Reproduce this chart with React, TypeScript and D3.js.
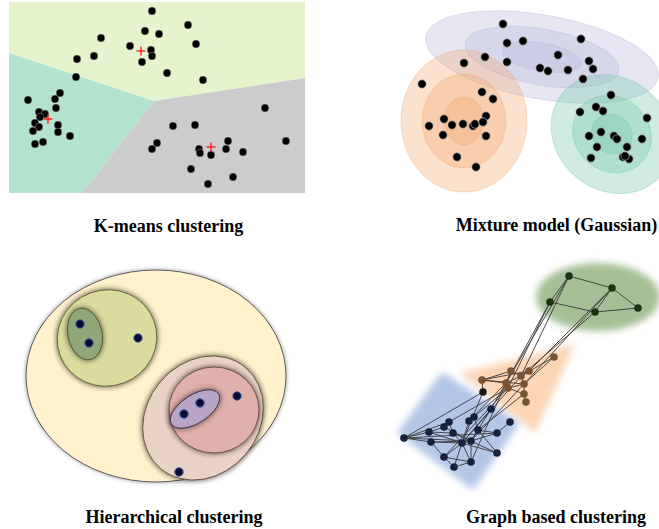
import React from "react";
import * as d3 from "d3";

type P = [number, number];

// ---------- Titles ----------
const panelTitles = [
  "K-means clustering",
  "Mixture model (Gaussian)",
  "Hierarchical clustering",
  "Graph based clustering",
];

// ---------- Panel A: K-means ----------
const kmTop: P[] = [
  [152, 11], [188, 25], [145, 31], [159, 34], [101, 38], [196, 44], [130, 46], [151, 50],
  [152, 56], [94, 56], [77, 59], [142, 62], [167, 73], [203, 80], [76, 77],
];
const kmLeft: P[] = [
  [60, 93], [55, 99], [28, 100], [56, 108], [39, 112], [45, 114], [40, 117], [35, 123],
  [39, 127], [33, 131], [58, 125], [58, 132], [70, 136], [43, 142], [35, 144],
];
const kmBottom: P[] = [
  [265, 108], [173, 126], [195, 125], [157, 143], [152, 149], [228, 141], [226, 149], [199, 149],
  [200, 153], [211, 155], [243, 152], [286, 141], [191, 169], [233, 177], [208, 184],
];
const kmCentroids: P[] = [[141, 51], [48, 119], [211, 147]];
const kmRegionTop: P[] = [[9, 2], [305, 2], [305, 78], [154, 101], [9, 53]];
const kmRegionLeft: P[] = [[9, 53], [154, 101], [82, 193], [9, 193]];
const kmRegionBottom: P[] = [[154, 101], [305, 78], [305, 193], [82, 193]];

// ---------- Panel B: Gaussian mixture ----------
const gmmPurplePts: P[] = [
  [113, 24], [191, 39], [117, 43], [133, 41], [95, 57], [117, 62], [168, 55], [74, 63],
  [199, 61], [203, 69], [150, 68], [158, 71], [178, 70], [193, 79],
];
const gmmOrangePts: P[] = [
  [32, 84], [92, 92], [103, 99], [96, 116], [54, 119], [39, 126], [62, 125], [73, 124],
  [83, 126], [85, 124], [93, 122], [53, 135], [96, 136], [67, 157], [86, 167],
];
const gmmGreenPts: P[] = [
  [221, 95], [190, 112], [206, 107], [213, 111], [257, 118], [199, 136], [211, 132], [224, 136],
  [227, 139], [252, 139], [207, 147], [237, 147], [201, 158], [233, 157], [239, 159], [235, 156],
];
// gaussian components: centre, [rx, ry] per sigma level, rotation (deg)
const gmmPurpleCenter: P = [152, 57];
const gmmPurpleRadii: P[] = [[118, 42], [78, 28], [40, 14]];
const gmmPurpleRot = 10;
const gmmOrangeCenter: P = [74, 121];
const gmmOrangeRadii: P[] = [[63, 71], [42, 47], [20, 24]];
const gmmOrangeRot = 0;
const gmmGreenCenter: P = [222, 134];
const gmmGreenRadii: P[] = [[64, 56], [41, 37], [21, 19]];
const gmmGreenRot = 40;

// ---------- Panel C: Hierarchical ----------
// [cx, cy, rx, ry, rotation]
const hcOuter = [156, 116, 130, 106, 0];
const hcOlive = [107, 78, 50, 48, -20];
const hcOliveInner = [85, 74, 17, 26, -12];
const hcTan = [203, 158, 66, 56, -50];
const hcRed = [214, 150, 45, 43, 0];
const hcPurple = [195, 149, 28, 14, -33];
const hcPoints: P[] = [[80, 64], [89, 83], [138, 78], [200, 143], [184, 154], [237, 136], [179, 212]];

// ---------- Panel D: Graph ----------
const grGreenRegion = [218, 37, 62, 34];
const grTriangle: P[] = [[80, 113], [195, 84], [155, 173]];
const grRect: P[] = [[17, 173], [62, 112], [140, 163], [93, 230]];
const grGreenNodes: P[] = [[189, 16], [232, 28], [170, 42], [215, 52], [258, 48]];
const grBrownNodes: P[] = [
  [174, 97], [131, 111], [149, 111], [141, 116], [102, 120], [126, 123], [144, 124], [128, 128],
  [144, 134], [146, 142],
];
const grBlueNodes: P[] = [
  [111, 149], [94, 157], [89, 161], [69, 162], [64, 167], [130, 162], [98, 170], [49, 172],
  [73, 173], [117, 173], [24, 178], [51, 182], [82, 183], [91, 181], [117, 193], [64, 197],
  [91, 202], [74, 207], [103, 132],
];
const grEdges: [string, string][] = [
  ["g0", "g1"], ["g0", "g2"], ["g1", "g3"], ["g2", "g3"], ["g3", "g4"], ["g1", "g4"],
  ["g0", "b5"], ["g2", "b5"], ["g2", "b7"], ["g0", "b3"], ["g1", "b6"], ["g3", "b3"], ["g1", "b2"],
  ["b1", "b3"], ["b2", "b3"], ["b1", "b5"], ["b3", "b5"], ["b3", "b6"], ["b4", "b5"], ["b4", "b6"],
  ["b5", "b7"], ["b6", "b8"], ["b8", "b9"], ["b0", "b6"], ["b0", "b3"], ["b7", "b8"], ["b4", "b2"],
  ["b7", "b6"], ["b1", "b4"],
  ["b5", "n0"], ["b7", "n1"], ["b5", "n2"], ["b3", "n12"], ["b7", "n15"], ["b6", "n13"],
  ["b8", "n6"], ["b4", "n18"], ["b7", "n3"], ["b5", "n16"],
  ["n18", "n10"], ["n18", "n12"], ["n10", "n7"], ["n10", "n11"], ["n10", "n3"], ["n10", "n13"],
  ["n10", "n9"], ["n7", "n4"], ["n7", "n8"], ["n7", "n12"], ["n4", "n3"], ["n3", "n8"],
  ["n8", "n12"], ["n12", "n13"], ["n13", "n6"], ["n6", "n1"], ["n1", "n2"], ["n2", "n12"],
  ["n12", "n15"], ["n12", "n16"], ["n15", "n17"], ["n17", "n16"], ["n16", "n13"], ["n13", "n9"],
  ["n9", "n5"], ["n14", "n12"], ["n14", "n6"], ["n11", "n12"], ["n11", "n13"], ["n0", "n13"],
  ["n0", "n12"], ["n15", "n16"], ["n17", "n12"], ["n4", "n13"], ["n8", "n14"], ["n6", "n9"],
  ["n11", "n15"],
];

const W = 659;
const H = 529;

function panelScales(ox: number, oy: number) {
  const x = d3.scaleLinear().domain([0, 100]).range([ox, ox + 100]);
  const y = d3.scaleLinear().domain([0, 100]).range([oy, oy + 100]);
  return { x, y };
}

export default function App() {
  const A = panelScales(0, 0);
  const B = panelScales(390, 0);
  const C = panelScales(0, 260);
  const D = panelScales(380, 260);

  const poly = (s: { x: any; y: any }, pts: P[]) =>
    (d3.line<P>().x((d) => s.x(d[0])).y((d) => s.y(d[1])).curve(d3.curveLinearClosed)(pts) as string);

  const kmPts = [...kmTop, ...kmLeft, ...kmBottom];

  const gmmComp = [
    { c: gmmPurpleCenter, r: gmmPurpleRadii, rot: gmmPurpleRot, color: "#b3b3d9" },
    { c: gmmOrangeCenter, r: gmmOrangeRadii, rot: gmmOrangeRot, color: "#f2a46b" },
    { c: gmmGreenCenter, r: gmmGreenRadii, rot: gmmGreenRot, color: "#6cc3a5" },
  ];
  const gmmPts = [...gmmPurplePts, ...gmmOrangePts, ...gmmGreenPts];

  const hcEll = (s: any, e: number[], fill: string, edge: string, key: string) => {
    const cx = s.x(e[0]);
    const cy = s.y(e[1]);
    const tr = `rotate(${e[4]} ${cx} ${cy})`;
    return (
      <g key={key}>
        <ellipse cx={cx} cy={cy} rx={e[2] + 1} ry={e[3] + 1} transform={tr} fill="#2a2418"
          fillOpacity={0.7} filter="url(#hcShadow)" />
        <ellipse cx={cx} cy={cy} rx={e[2]} ry={e[3]} transform={tr} fill={fill}
          stroke={edge} strokeWidth={0.9} />
      </g>
    );
  };

  const nodeMap: Record<string, P> = {};
  grGreenNodes.forEach((p, i) => (nodeMap["g" + i] = p));
  grBrownNodes.forEach((p, i) => (nodeMap["b" + i] = p));
  grBlueNodes.forEach((p, i) => (nodeMap["n" + i] = p));

  const titleStyle = {
    fontFamily: "'Liberation Serif', 'Times New Roman', serif",
    fontWeight: "bold" as const,
    fontSize: 18,
    fill: "#000",
  };

  return (
    <svg width={W} height={H} style={{ position: "absolute", left: 0, top: 0, background: "#fff" }}>
      <defs>
        <filter id="hcShadow" x="-30%" y="-30%" width="160%" height="160%">
          <feGaussianBlur stdDeviation={2.6} />
        </filter>
        <filter id="hcBlur" x="-20%" y="-20%" width="140%" height="140%">
          <feGaussianBlur stdDeviation={1.5} />
        </filter>
        <filter id="softBlur" x="-30%" y="-30%" width="160%" height="160%">
          <feGaussianBlur stdDeviation={3.5} />
        </filter>
      </defs>

      {/* Panel A */}
      <g>
        <path d={poly(A, kmRegionTop)} fill="#e6f4cd" />
        <path d={poly(A, kmRegionLeft)} fill="#b3e2cd" />
        <path d={poly(A, kmRegionBottom)} fill="#cccccc" />
        {kmPts.map((p, i) => (
          <circle key={i} cx={A.x(p[0])} cy={A.y(p[1])} r={3.9} fill="#000" stroke="#fff" strokeOpacity={0.5} strokeWidth={0.6} />
        ))}
        {kmCentroids.map((p, i) => (
          <g key={i} stroke="#ff1a1a" strokeWidth={1.4}>
            <line x1={A.x(p[0]) - 4.5} x2={A.x(p[0]) + 4.5} y1={A.y(p[1])} y2={A.y(p[1])} />
            <line x1={A.x(p[0])} x2={A.x(p[0])} y1={A.y(p[1]) - 4.5} y2={A.y(p[1]) + 4.5} />
          </g>
        ))}
      </g>

      {/* Panel B */}
      <g>
        {gmmComp.map((c, ci) =>
          c.r.map((r, li) => {
            const cx = B.x(c.c[0]);
            const cy = B.y(c.c[1]);
            return (
              <ellipse key={ci + "-" + li} cx={cx} cy={cy} rx={r[0]} ry={r[1]}
                transform={`rotate(${c.rot} ${cx} ${cy})`} fill={c.color} fillOpacity={0.32}
                stroke={c.color} strokeOpacity={0.35} strokeWidth={1} />
            );
          })
        )}
        {gmmPts.map((p, i) => (
          <circle key={i} cx={B.x(p[0])} cy={B.y(p[1])} r={4.2} fill="#000" stroke="#bbb" strokeWidth={0.7} />
        ))}
      </g>

      {/* Panel C */}
      <g>
        <ellipse cx={C.x(hcOuter[0])} cy={C.y(hcOuter[1])} rx={hcOuter[2] + 0.5} ry={hcOuter[3] + 0.5}
          fill="none" stroke="#666" strokeWidth={2} strokeOpacity={0.5} filter="url(#hcBlur)" />
        <ellipse cx={C.x(hcOuter[0])} cy={C.y(hcOuter[1])} rx={hcOuter[2]} ry={hcOuter[3]}
          fill="#fff2cd" stroke="#4a4a4a" strokeWidth={0.9} />
        {hcEll(C, hcOlive, "#dadb9d", "#6e6a3c", "olive")}
        {hcEll(C, hcOliveInner, "#91a679", "#4e5a38", "oliveInner")}
        {hcEll(C, hcTan, "#e9d3c6", "#6a5548", "tan")}
        {hcEll(C, hcRed, "#e0b0aa", "#6a4a46", "red")}
        {hcEll(C, hcPurple, "#b8a4c4", "#3e3450", "purple")}
        {hcPoints.map((p, i) => (
          <circle key={i} cx={C.x(p[0])} cy={C.y(p[1])} r={4.2} fill="#0c0c30" stroke="#3c5aa8" strokeWidth={1} />
        ))}
      </g>

      {/* Panel D */}
      <g>
        <ellipse cx={D.x(grGreenRegion[0])} cy={D.y(grGreenRegion[1])} rx={grGreenRegion[2]} ry={grGreenRegion[3]}
          fill="#a4bf95" filter="url(#softBlur)" />
        <path d={poly(D, grTriangle)} fill="#fbd5b6" filter="url(#softBlur)" />
        <path d={poly(D, grRect)} fill="#b2c6e6" filter="url(#softBlur)" />
        {grEdges.map(([a, b], i) => {
          const pa = nodeMap[a];
          const pb = nodeMap[b];
          return (
            <line key={i} x1={D.x(pa[0])} y1={D.y(pa[1])} x2={D.x(pb[0])} y2={D.y(pb[1])}
              stroke="#3a3a3a" strokeWidth={0.9} />
          );
        })}
        {grGreenNodes.map((p, i) => (
          <circle key={"g" + i} cx={D.x(p[0])} cy={D.y(p[1])} r={3.8} fill="#1d3414" />
        ))}
        {grBrownNodes.map((p, i) => (
          <circle key={"b" + i} cx={D.x(p[0])} cy={D.y(p[1])} r={3.8} fill="#7a5333" />
        ))}
        {grBlueNodes.map((p, i) => (
          <circle key={"n" + i} cx={D.x(p[0])} cy={D.y(p[1])} r={3.8} fill={i === 18 ? "#1a1a1a" : "#16213b"} />
        ))}
      </g>

      {/* Titles */}
      <text x={168.5} y={232} textAnchor="middle" style={titleStyle}>{panelTitles[0]}</text>
      <text x={556.5} y={231} textAnchor="middle" style={titleStyle}>{panelTitles[1]}</text>
      <text x={174} y={523} textAnchor="middle" style={titleStyle}>{panelTitles[2]}</text>
      <text x={556} y={523} textAnchor="middle" style={titleStyle}>{panelTitles[3]}</text>
    </svg>
  );
}
